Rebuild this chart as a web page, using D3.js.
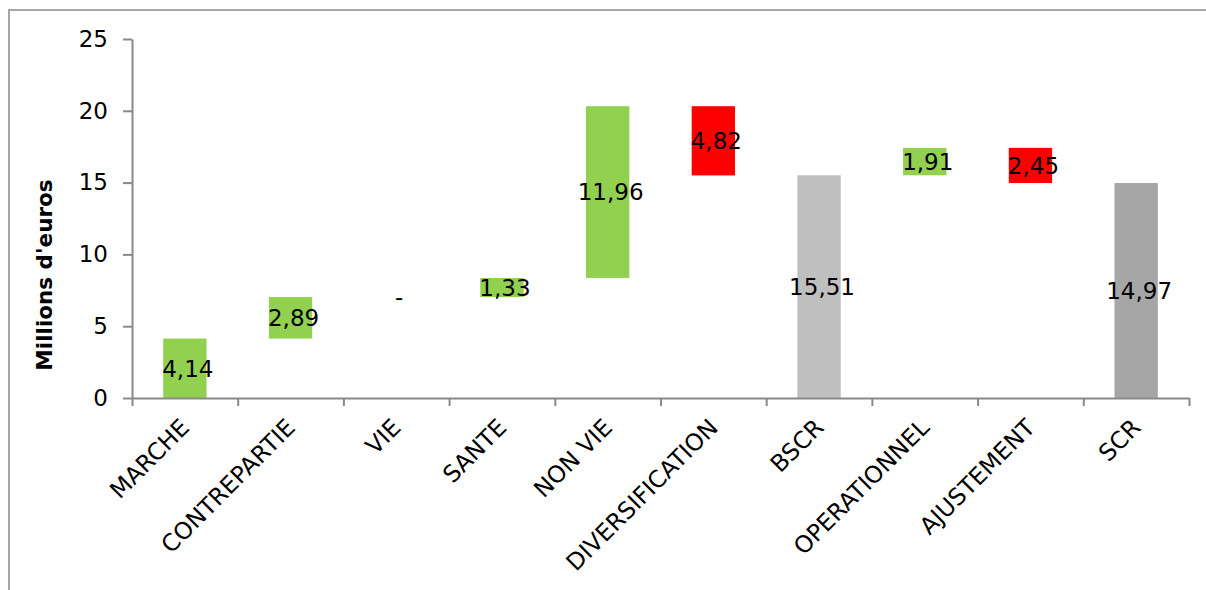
<!DOCTYPE html>
<html>
<head>
<meta charset="utf-8">
<script src="https://cdn.jsdelivr.net/npm/d3@7"></script>
<style>
  html, body { margin: 0; padding: 0; background: #fff; }
  svg { display: block; font-family: 'DejaVu Sans', Verdana, sans-serif; }
  .axis path, .axis line { stroke: #898989; stroke-width: 2px; }
</style>
</head>
<body>
<div class="chart-container"></div>
<script>
const categories = ['MARCHE', 'CONTREPARTIE', 'VIE', 'SANTE', 'NON VIE',
                    'DIVERSIFICATION', 'BSCR', 'OPERATIONNEL', 'AJUSTEMENT', 'SCR'];
// deltas for contributions, full heights for totals
const values = [4.14, 2.89, 0, 1.33, 11.96, -4.82, 15.51, 1.91, -2.45, 14.97];
const isTotal = [false, false, false, false, false, false, true, false, false, true];
const yTicks = [0, 5, 10, 15, 20, 25];
const yTitle = 'Millions d\'euros';

const positiveColor = '#92D050';
const negativeColor = '#FF0000';
const totalColors = ['#BFBFBF', '#A6A6A6'];

const width = 1206, height = 590;
const margin = {top: 39, right: 17, bottom: 192, left: 132};
const innerW = width - margin.left - margin.right;
const innerH = height - margin.top - margin.bottom;

// build waterfall segments
let running = 0;
let totalIndex = 0;
const bars = categories.map((name, i) => {
  let start, end, color;
  if (isTotal[i]) {
    start = 0;
    end = values[i];
    running = values[i];
    color = totalColors[totalIndex++];
  } else {
    start = running;
    end = running + values[i];
    running = end;
    color = values[i] >= 0 ? positiveColor : negativeColor;
  }
  return {name, value: values[i], start, end, color};
});

const svg = d3.select('.chart-container').append('svg')
  .attr('width', width)
  .attr('height', height);

// outer frame (only top and left edges visible)
svg.append('path')
  .attr('d', 'M9,590 V10 H1206')
  .attr('fill', 'none')
  .attr('stroke', '#a6a6a6')
  .attr('stroke-width', 2);

const g = svg.append('g')
  .attr('transform', `translate(${margin.left},${margin.top})`);

const x = d3.scaleBand()
  .domain(categories)
  .range([0, innerW])
  .paddingInner(0.59)
  .paddingOuter(0.295);

const xEdges = d3.scaleLinear().domain([0, categories.length]).range([0, innerW]);

const y = d3.scaleLinear()
  .domain([0, 25])
  .range([innerH, 0]);

// bars
g.selectAll('.bar')
  .data(bars.filter(d => d.value !== 0))
  .enter().append('rect')
  .attr('class', 'bar')
  .attr('x', d => x(d.name))
  .attr('width', x.bandwidth())
  .attr('y', d => y(Math.max(d.start, d.end)))
  .attr('height', d => Math.abs(y(d.start) - y(d.end)))
  .attr('fill', d => d.color);

// y axis
g.append('g')
  .attr('class', 'axis y')
  .call(d3.axisLeft(y).tickValues(yTicks).tickSize(9).tickSizeOuter(0).tickPadding(15))
  .call(a => a.selectAll('text')
    .attr('font-size', '23px')
    .attr('fill', '#000')
    .attr('font-family', "'DejaVu Sans', sans-serif"));

// x axis: tick marks on category boundaries
g.append('g')
  .attr('class', 'axis x')
  .attr('transform', `translate(0,${innerH})`)
  .call(d3.axisBottom(xEdges).ticks(categories.length).tickSize(8).tickSizeOuter(0).tickFormat(''));

// category labels
g.selectAll('.cat-label')
  .data(categories)
  .enter().append('text')
  .attr('class', 'cat-label')
  .attr('transform', d => `translate(${x(d) + x.bandwidth() / 2 + 6},${innerH + 31}) rotate(-45)`)
  .attr('text-anchor', 'end')
  .attr('font-size', '23.5px')
  .attr('fill', '#000')
  .text(d => d);

// value labels, centered on each bar
const fmt = v => v === 0 ? '-' : Math.abs(v).toFixed(2).replace('.', ',');
g.selectAll('.val-label')
  .data(bars)
  .enter().append('text')
  .attr('class', 'val-label')
  .attr('x', d => x(d.name) + x.bandwidth() / 2 + 3)
  .attr('y', d => y((d.start + d.end) / 2))
  .attr('dy', '0.36em')
  .attr('text-anchor', 'middle')
  .attr('font-size', '23px')
  .attr('fill', '#000')
  .text(d => fmt(d.value));

// y axis title
svg.append('text')
  .attr('transform', 'translate(52,275) rotate(-90)')
  .attr('text-anchor', 'middle')
  .attr('font-size', '21.5px')
  .attr('font-weight', 'bold')
  .attr('fill', '#000')
  .text(yTitle);
</script>
</body>
</html>
